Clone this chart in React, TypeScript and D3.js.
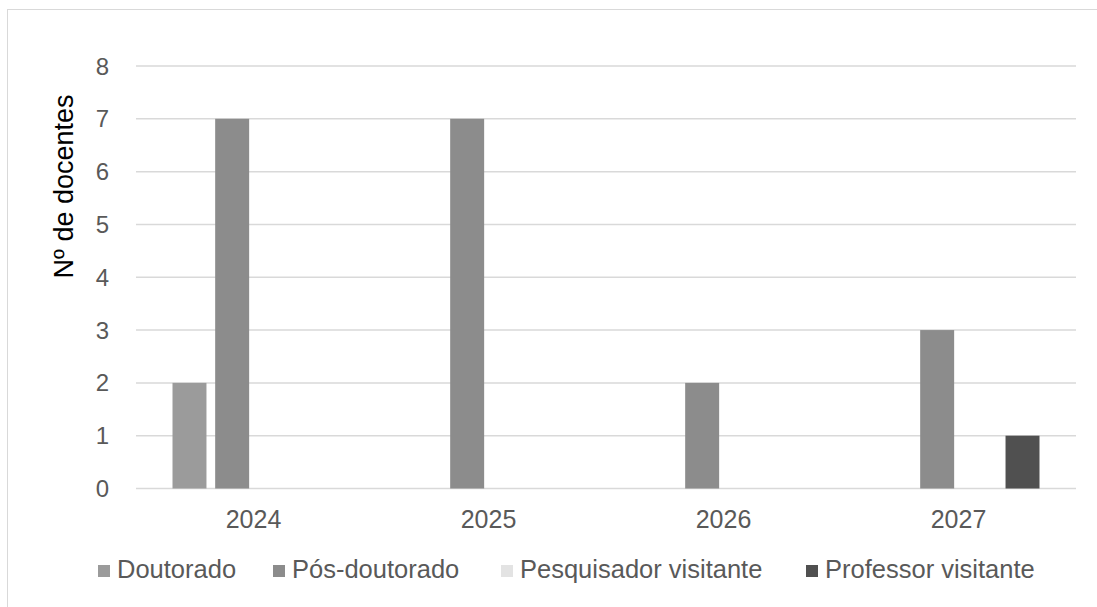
import React from "react";
import * as d3 from "d3";

const years = ["2024", "2025", "2026", "2027"];
const seriesNames = ["Doutorado", "Pós-doutorado", "Pesquisador visitante", "Professor visitante"];
const doutorado = [2, 0, 0, 0];
const posDoutorado = [7, 7, 2, 3];
const pesquisador = [0, 0, 0, 0];
const professor = [0, 0, 0, 1];
const yTicks = [0, 1, 2, 3, 4, 5, 6, 7, 8];
const colors = ["#9b9b9b", "#8c8c8c", "#e3e3e3", "#505050"];

const seriesValues = [doutorado, posDoutorado, pesquisador, professor];

export default function App() {
  const W = 1097, H = 607;
  const left = 136, right = 1076, top = 66, bottom = 488.5;
  const x0 = d3.scaleBand<string>().domain(years).range([left, right]).paddingInner(0).paddingOuter(0);
  const groupPad = 36.5;
  const x1 = d3.scaleBand<string>().domain(seriesNames).range([groupPad, x0.bandwidth() - groupPad]).paddingInner(0.204).paddingOuter(0);
  const y = d3.scaleLinear().domain([0, 8]).range([bottom, top]);
  const font = "Arial, 'Liberation Sans', sans-serif";

  const legendX = [98, 273, 501, 806];

  return (
    <svg width={W} height={H} style={{ position: "absolute", left: 0, top: 0, background: "#fff" }} fontFamily={font}>
      <rect x={7.5} y={9.5} width={W} height={H} fill="none" stroke="#d9d9d9" strokeWidth={1} />
      {yTicks.map((t) => (
        <g key={t}>
          <line x1={left} x2={right} y1={y(t)} y2={y(t)} stroke="#d9d9d9" strokeWidth={1.5} />
          <text x={109} y={y(t) + 8.5} textAnchor="end" fontSize={24} fill="#595959">{t}</text>
        </g>
      ))}
      {years.map((yr, i) => (
        <g key={yr}>
          {seriesNames.map((s, j) => {
            const v = seriesValues[j][i];
            if (!v) return null;
            return (
              <rect key={s} x={(x0(yr) ?? 0) + (x1(s) ?? 0)} y={y(v)} width={x1.bandwidth()} height={y(0) - y(v)} fill={colors[j]} />
            );
          })}
          <text x={(x0(yr) ?? 0) + x0.bandwidth() / 2} y={528} textAnchor="middle" fontSize={25} fill="#595959">{yr}</text>
        </g>
      ))}
      <text transform={`translate(73,186.5) rotate(-90)`} textAnchor="middle" fontSize={27} fill="#000">Nº de docentes</text>
      {seriesNames.map((s, j) => (
        <g key={s}>
          <rect x={legendX[j]} y={565} width={12} height={12} fill={colors[j]} />
          <text x={legendX[j] + 19} y={578} fontSize={25.5} fill="#595959">{s}</text>
        </g>
      ))}
    </svg>
  );
}
